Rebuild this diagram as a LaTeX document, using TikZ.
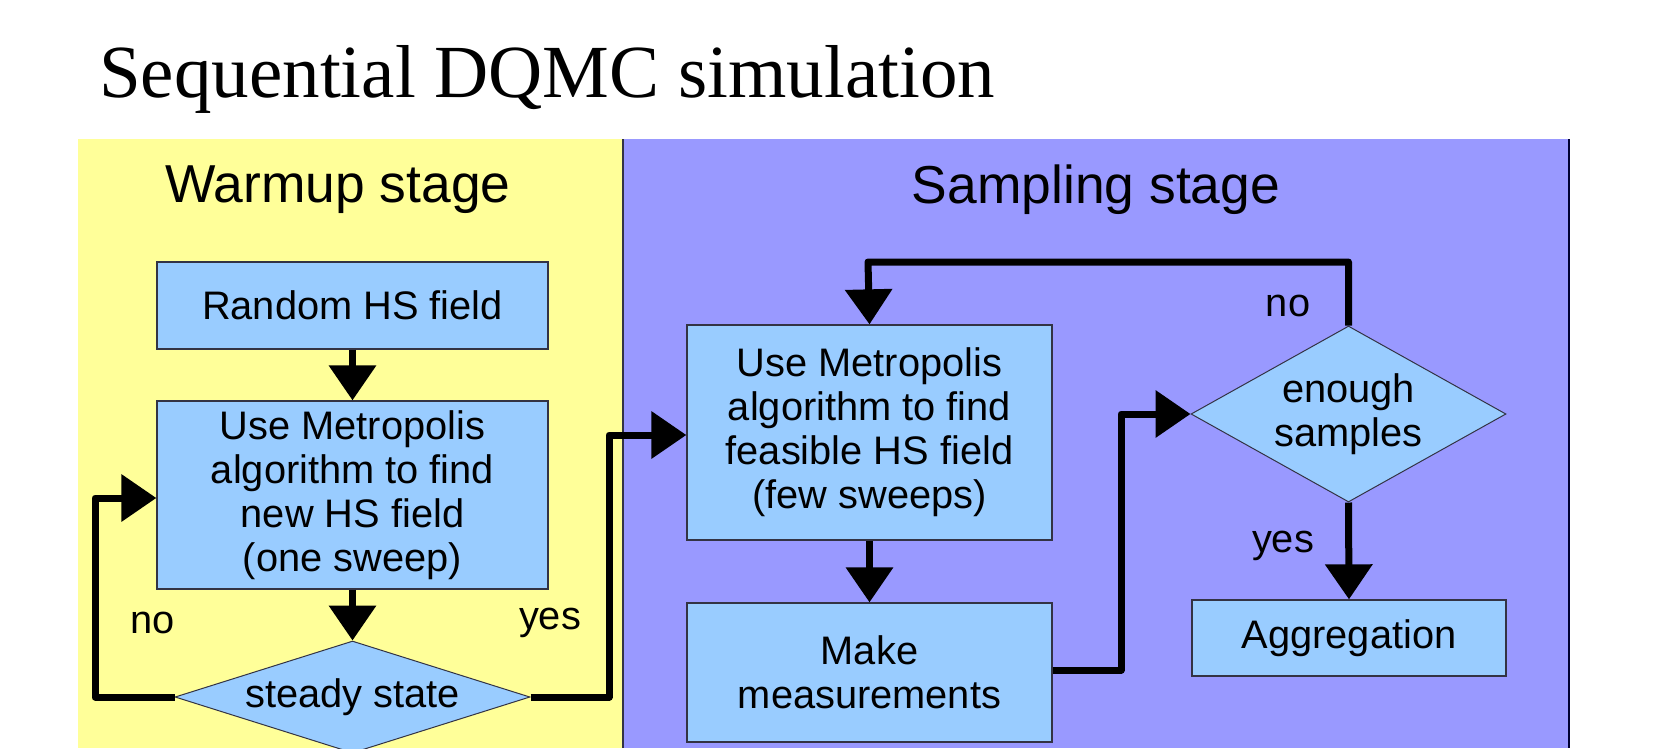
\documentclass[tikz,border=0pt]{standalone}
\usepackage{fontspec}
\setmainfont{Liberation Sans}
\newfontfamily\titlefont{Liberation Serif}
\usetikzlibrary{arrows.meta,shapes.geometric}
\definecolor{warm}{RGB}{255,255,153}
\definecolor{samp}{RGB}{153,153,255}
\definecolor{boxfill}{RGB}{153,204,255}
\definecolor{boxline}{RGB}{51,51,68}
\tikzset{
  procbox/.style={draw=boxline, line width=1.3pt, fill=boxfill, align=center, inner sep=0pt,
    font=\fontsize{39.8}{44}\selectfont},
  decision/.style={diamond, draw=boxline, line width=1pt, fill=boxfill, align=center, inner sep=0pt,
    font=\fontsize{39.8}{44}\selectfont},
  flow/.style={line width=7pt, line join=round, -{Triangle[length=35pt,width=46pt]}},
  lbl/.style={font=\fontsize{39.8}{44}\selectfont, inner sep=0pt},
  stagelbl/.style={font=\fontsize{53.4}{60}\selectfont, inner sep=0pt}
}
\begin{document}
\begin{tikzpicture}[x=1pt,y=-1pt]
\clip (0,0) rectangle (1655,748);
\fill[white] (0,0) rectangle (1655,748);
% panels
\fill[warm] (78,139) rectangle (623,748);
\fill[samp] (623,139) rectangle (1569,748);
\draw[boxline, line width=2pt] (623,139) -- (623,748);
\draw[black!80!blue, line width=1.5pt] (1569,139) -- (1569,748);
% title
\node[anchor=base west, inner sep=0pt, font=\titlefont\fontsize{75}{80}\selectfont] (title) at (99,97) {Sequential DQMC simulation};
\node[stagelbl] (warmlbl) at (338,190) {Warmup stage};
\node[stagelbl] (samplbl) at (1096,190) {Sampling stage};
% warmup nodes
\node[procbox, minimum width=391pt, minimum height=87pt] (rand) at (352.5,305.5) {Random HS field};
\node[procbox, minimum width=391pt, minimum height=188pt] (metro1) at (352.5,495) {Use Metropolis\\algorithm to find\\new HS field\\(one sweep)};
\node[decision, minimum width=355pt, minimum height=112pt, aspect=3.17] (steady) at (352.5,697) {steady state};
% sampling nodes
\node[procbox, minimum width=365pt, minimum height=215pt] (metro2) at (869.5,432.5) {Use Metropolis\\algorithm to find\\feasible HS field\\(few sweeps)};
\node[procbox, minimum width=365pt, minimum height=139pt] (meas) at (869.5,672.5) {Make\\measurements};
\node[decision, minimum width=315pt, minimum height=176pt, aspect=1.79] (enough) at (1348.5,414) {enough\\samples};
\node[procbox, minimum width=314pt, minimum height=76pt] (agg) at (1349,638) {Aggregation};
% labels
\node[lbl] (nolbl1) at (153,623) {no};
\node[lbl] (yeslbl1) at (550,623) {yes};
\node[lbl] (nolbl2) at (1288,306) {no};
\node[lbl] (yeslbl2) at (1283,546) {yes};
% coordinates for path bends
\coordinate (c1) at (95,498);
\coordinate (c2) at (609,435);
\coordinate (c3) at (1121,414);
\coordinate (c4) at (868,262);
% connectors
\draw[flow] (rand.south) -- (metro1.north);
\draw[flow] (metro1.south) -- (steady.north);
\draw[flow] (steady.west) -| (c1) -- (metro1.west |- c1);
\draw[flow] (steady.east) -| (c2) -- (metro2.west |- c2);
\draw[flow] (metro2.south) -- (meas.north);
\draw[flow] (meas.east |- 0,670) -| (c3) -- (enough.west);
\draw[flow] (enough.north) |- (c4) -- (metro2.north);
\draw[flow] (enough.south) -- (agg.north);
\end{tikzpicture}
\end{document}
